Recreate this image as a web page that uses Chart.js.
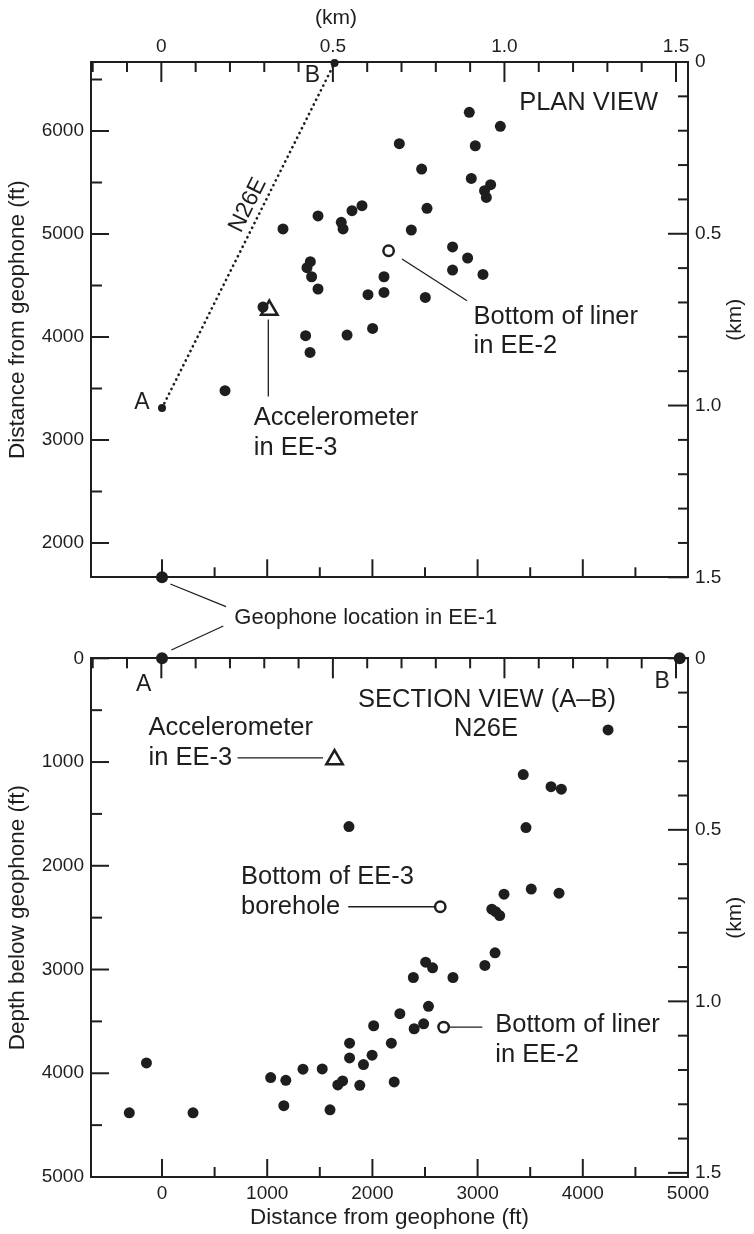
<!DOCTYPE html>
<html lang="en">

<head>
    <meta charset="UTF-8">
    <title>Plan and Section View</title>
    <script src="https://cdn.jsdelivr.net/npm/chart.js"></script>
    <style>
        body { margin: 0; background: #fff; }
        #wrap { position: relative; width: 754px; height: 1234px; }
        canvas { position: absolute; left: 0; top: 0; }
    </style>
</head>

<body>
    <div id="wrap">
        <canvas id="planChart" width="754" height="1234"></canvas>
        <canvas id="sectionChart" width="754" height="1234"></canvas>
    </div>

    <script>
        // Plan view: [east distance (ft), north distance (ft)]
        const planEvents = [
            [2921, 6181], [3216, 6045], [2256, 5877], [2978, 5857], [2468, 5631], [2940, 5540],
            [3124, 5479], [3066, 5420], [3083, 5355], [1901, 5275], [1806, 5227], [2519, 5249],
            [1483, 5175], [1704, 5113], [1721, 5049], [1150, 5049], [2370, 5039], [2762, 4874],
            [2905, 4767], [1410, 4731], [1378, 4673], [1422, 4585], [2110, 4585], [2762, 4650],
            [3051, 4608], [1483, 4466], [2110, 4433], [1958, 4411], [2503, 4384], [960, 4291],
            [2002, 4083], [1365, 4013], [1759, 4019], [1407, 3850], [599, 3479]
        ];
        const planLinerEE2 = [[2154, 4838]];
        const planAccelEE3 = [[1020, 4261]];
        const planA = [0, 3311];
        const planB = [1640, 6660];
        const planGeophone = [[0, 1667]];

        // Section view: [distance along A-B (ft), depth (ft)]
        const sectionEvents = [
            [4240, 690], [3434, 1121], [3698, 1237], [3796, 1262], [3460, 1632], [1777, 1622],
            [3251, 2274], [3510, 2225], [3774, 2264], [3135, 2418], [3172, 2442], [3210, 2480],
            [3166, 2839], [2506, 2929], [2572, 2984], [3069, 2961], [2389, 3077], [2766, 3077],
            [2533, 3355], [2261, 3426], [2012, 3542], [2397, 3571], [2487, 3523], [1783, 3710],
            [2180, 3710], [1783, 3852], [1997, 3826], [1915, 3916], [-148, 3900], [1033, 4042],
            [1177, 4068], [1340, 3961], [1523, 3958], [1717, 4074], [1671, 4113], [1880, 4116],
            [2207, 4084], [1158, 4313], [1597, 4352], [-311, 4381], [295, 4381]
        ];
        const sectionBoreholeEE3 = [[2645, 2395]];
        const sectionLinerEE2 = [[2677, 3555]];
        const sectionAccelEE3 = [[1640, 976]];
        const sectionEnds = [[0, 0], [4921, 0]];

        // Tick labels
        const ftTicksX = [0, 1000, 2000, 3000, 4000, 5000];
        const planFtTicksY = [2000, 3000, 4000, 5000, 6000];
        const sectionFtTicksY = [0, 1000, 2000, 3000, 4000, 5000];
        const kmTicks = [0, 0.5, 1.0, 1.5];

        const INK = '#1e1e1e';
        const FONT = "'Liberation Sans', Arial, sans-serif";
        const NOTE = 25.5;

        const pts = arr => arr.map(p => ({ x: p[0], y: p[1] }));
        const kmLabel = v => (v === 0 ? '0' : v.toFixed(1));

        function label(ctx, str, x, y, size, align, rot) {
            ctx.save();
            ctx.translate(x, y);
            if (rot) ctx.rotate(rot);
            ctx.font = size + 'px ' + FONT;
            ctx.fillStyle = INK;
            ctx.textAlign = align || 'left';
            ctx.textBaseline = 'middle';
            ctx.fillText(str, 0, 0);
            ctx.restore();
        }

        function seg(ctx, x1, y1, x2, y2, w) {
            ctx.save();
            ctx.strokeStyle = INK;
            ctx.lineWidth = w || 1.3;
            ctx.beginPath();
            ctx.moveTo(x1, y1);
            ctx.lineTo(x2, y2);
            ctx.stroke();
            ctx.restore();
        }

        // inward tick marks on all four sides
        const inkTicks = {
            id: 'inkTicks',
            beforeDatasetsDraw(chart) {
                const ctx = chart.ctx;
                const a = chart.chartArea;
                ctx.save();
                ctx.strokeStyle = INK;
                ctx.lineWidth = 2;
                chart.options.plugins.inkTicks.forEach(t => {
                    const s = chart.scales[t.scale];
                    for (let i = t.from; i <= t.to; i++) {
                        const v = i * t.step;
                        if (v < Math.min(s.min, s.max) || v > Math.max(s.min, s.max)) continue;
                        const len = i % t.every === 0 ? t.major : t.minor;
                        const p = s.getPixelForValue(v);
                        ctx.beginPath();
                        if (t.side === 'top') { ctx.moveTo(p, a.top); ctx.lineTo(p, a.top + len); }
                        if (t.side === 'bottom') { ctx.moveTo(p, a.bottom); ctx.lineTo(p, a.bottom - len); }
                        if (t.side === 'left') { ctx.moveTo(a.left, p); ctx.lineTo(a.left + len, p); }
                        if (t.side === 'right') { ctx.moveTo(a.right, p); ctx.lineTo(a.right - len, p); }
                        ctx.stroke();
                    }
                });
                ctx.restore();
            }
        };

        function tickSpec() {
            return [
                { scale: 'xKm', side: 'top', from: -2, to: 15, step: 0.1, every: 5, major: 20, minor: 10 },
                { scale: 'x', side: 'bottom', from: 0, to: 10, step: 500, every: 2, major: 18, minor: 10 },
                { scale: 'y', side: 'left', from: 0, to: 14, step: 500, every: 2, major: 18, minor: 11 },
                { scale: 'yKm', side: 'right', from: 0, to: 15, step: 0.1, every: 5, major: 20, minor: 10 }
            ];
        }

        function scalesFor(yMin, yMax, yReverse, yTicks, kmMax, topH, bottomH, showX) {
            const border = { display: true, color: INK, width: 2 };
            const grid = { display: false, drawTicks: false };
            const font = { family: FONT, size: 19 };
            return {
                x: {
                    type: 'linear', position: 'bottom', min: -675, max: 5000, border, grid,
                    afterBuildTicks: s => { s.ticks = ftTicksX.map(v => ({ value: v })); },
                    ticks: { display: showX, font, color: INK, padding: 5, autoSkip: false, maxRotation: 0, callback: v => String(v) },
                    afterFit: s => { s.height = bottomH; }
                },
                xKm: {
                    type: 'linear', position: 'top', min: -0.205, max: 1.535, border, grid,
                    afterBuildTicks: s => { s.ticks = kmTicks.map(v => ({ value: v })); },
                    ticks: { display: !showX, font, color: INK, padding: 4, autoSkip: false, maxRotation: 0, callback: kmLabel },
                    afterFit: s => { s.height = topH; }
                },
                y: {
                    type: 'linear', position: 'left', min: yMin, max: yMax, reverse: yReverse, border, grid,
                    afterBuildTicks: s => { s.ticks = yTicks.map(v => ({ value: v })); },
                    ticks: { font, color: INK, padding: 7, autoSkip: false, callback: v => String(v) },
                    afterFit: s => { s.width = 91; }
                },
                yKm: {
                    type: 'linear', position: 'right', min: 0, max: kmMax, reverse: true, border, grid,
                    afterBuildTicks: s => { s.ticks = kmTicks.map(v => ({ value: v })); },
                    ticks: { font, color: INK, padding: 7, autoSkip: false, callback: kmLabel },
                    afterFit: s => { s.width = 66; }
                }
            };
        }

        const dots = (data, r) => ({ data: pts(data), pointRadius: r, backgroundColor: INK, borderWidth: 0, clip: false });
        const rings = data => ({ data: pts(data), pointRadius: 5.2, backgroundColor: '#fff', borderColor: INK, borderWidth: 2.5, clip: false });
        const triangle = data => ({ data: pts(data), pointStyle: 'triangle', pointRadius: 9.5, backgroundColor: 'rgba(0,0,0,0)', borderColor: INK, borderWidth: 2.5, clip: false });

        const pix = (c, p) => [c.scales.x.getPixelForValue(p[0]), c.scales.y.getPixelForValue(p[1])];

        // labels for the plan view
        const planNotes = {
            id: 'planNotes',
            afterDatasetsDraw(chart) {
                const ctx = chart.ctx;
                const a = chart.chartArea;
                const [ax, ay] = pix(chart, planA);
                const [bx, by] = pix(chart, planB);
                label(ctx, 'B', bx - 22, by + 13, 23, 'center');
                label(ctx, 'A', ax - 20, ay - 5, 23, 'center');

                const len = Math.hypot(bx - ax, by - ay);
                const dx = (bx - ax) / len, dy = (by - ay) / len;
                const t = 0.57;
                label(ctx, 'N26E', ax + (bx - ax) * t + dy * 14, ay + (by - ay) * t - dx * 14, 23, 'center', Math.atan2(by - ay, bx - ax));

                label(ctx, 'PLAN VIEW', a.right - 30, a.top + 41, NOTE, 'right');

                const [cx, cy] = pix(chart, planLinerEE2[0]);
                seg(ctx, cx + 13.4, cy + 8.3, cx + 78.4, cy + 50);
                label(ctx, 'Bottom of liner', cx + 85, cy + 66, NOTE);
                label(ctx, 'in EE-2', cx + 85, cy + 95, NOTE);

                const [tx, ty] = pix(chart, planAccelEE3[0]);
                seg(ctx, tx - 1, ty + 9.5, tx - 1, ty + 86.5);
                label(ctx, 'Accelerometer', tx - 15.5, ty + 107.5, NOTE);
                label(ctx, 'in EE-3', tx - 15.5, ty + 137.5, NOTE);

                // axis titles
                label(ctx, '(km)', chart.scales.xKm.getPixelForValue(0.5) + 3, 18, 21, 'center');
                label(ctx, 'Distance from geophone (ft)', 18, (a.top + a.bottom) / 2, 22.5, 'center', -Math.PI / 2);
                label(ctx, '(km)', 735, (a.top + a.bottom) / 2, 21, 'center', -Math.PI / 2);
            }
        };

        const planChart = new Chart(document.getElementById('planChart'), {
            type: 'scatter',
            data: {
                datasets: [
                    dots(planEvents, 5.5),
                    rings(planLinerEE2),
                    triangle(planAccelEE3),
                    {
                        data: pts([planA, planB]), showLine: true, borderColor: INK, borderWidth: 2.7,
                        borderDash: [0.1, 5.2], borderCapStyle: 'round', pointRadius: 4,
                        backgroundColor: INK, pointBorderWidth: 0, clip: false
                    },
                    dots(planGeophone, 6)
                ]
            },
            options: {
                responsive: false,
                animation: false,
                events: [],
                layout: { padding: { left: 0, right: 0, top: 0, bottom: 626.7 } },
                scales: scalesFor(1667, 6670, false, planFtTicksY, 1.5, 62, 30, false),
                plugins: { legend: { display: false }, tooltip: { enabled: false }, inkTicks: tickSpec() }
            },
            plugins: [inkTicks, planNotes]
        });

        // labels for the section view
        const sectionNotes = {
            id: 'sectionNotes',
            afterDatasetsDraw(chart) {
                const ctx = chart.ctx;
                const a = chart.chartArea;
                const [ax, ay] = pix(chart, sectionEnds[0]);
                const [bx, by] = pix(chart, sectionEnds[1]);
                label(ctx, 'A', ax - 18.4, ay + 26, 23, 'center');
                label(ctx, 'B', bx - 17.4, by + 23, 23, 'center');

                label(ctx, 'SECTION VIEW (A\u2013B)', a.right - 201, a.top + 42, NOTE, 'center');
                label(ctx, 'N26E', a.right - 202, a.top + 71, NOTE, 'center');

                const [tx, ty] = pix(chart, sectionAccelEE3[0]);
                label(ctx, 'Accelerometer', tx - 186, ty - 31.6, NOTE);
                label(ctx, 'in EE-3', tx - 186, ty - 1.6, NOTE);
                seg(ctx, tx - 97, ty - 1.6, tx - 11.5, ty - 1.6);

                const [hx, hy] = pix(chart, sectionBoreholeEE3[0]);
                label(ctx, 'Bottom of EE-3', hx - 199.3, hy - 29.7, NOTE);
                label(ctx, 'borehole', hx - 199.3, hy + 0.3, NOTE);
                seg(ctx, hx - 92, hy, hx - 6, hy);

                const [lx, ly] = pix(chart, sectionLinerEE2[0]);
                seg(ctx, lx + 6, ly, lx + 38.7, ly);
                label(ctx, 'Bottom of liner', lx + 51.7, ly - 2.3, NOTE);
                label(ctx, 'in EE-2', lx + 51.7, ly + 27.7, NOTE);

                // geophone shared between both panels
                const [gx, gy] = pix(planChart, planGeophone[0]);
                seg(ctx, gx + 8.3, gy + 6.7, gx + 64, gy + 29.4);
                seg(ctx, ax + 61.3, ay - 32.3, ax + 9.3, ay - 8.3);
                label(ctx, 'Geophone location in EE-1', gx + 72.3, gy + 40.7, 22);

                // axis titles
                label(ctx, 'Distance from geophone (ft)', (a.left + a.right) / 2, 1218, 22.5, 'center');
                label(ctx, 'Depth below geophone (ft)', 18, (a.top + a.bottom) / 2, 22.5, 'center', -Math.PI / 2);
                label(ctx, '(km)', 735, (a.top + a.bottom) / 2, 21, 'center', -Math.PI / 2);
            }
        };

        new Chart(document.getElementById('sectionChart'), {
            type: 'scatter',
            data: {
                datasets: [
                    dots(sectionEvents, 5.5),
                    rings(sectionBoreholeEE3),
                    rings(sectionLinerEE2),
                    triangle(sectionAccelEE3),
                    dots(sectionEnds, 6)
                ]
            },
            options: {
                responsive: false,
                animation: false,
                events: [],
                layout: { padding: { left: 0, right: 0, top: 628.3, bottom: 0 } },
                scales: scalesFor(0, 5000, true, sectionFtTicksY, 1.512, 30, 57, true),
                plugins: { legend: { display: false }, tooltip: { enabled: false }, inkTicks: tickSpec() }
            },
            plugins: [inkTicks, sectionNotes]
        });
    </script>
</body>

</html>
